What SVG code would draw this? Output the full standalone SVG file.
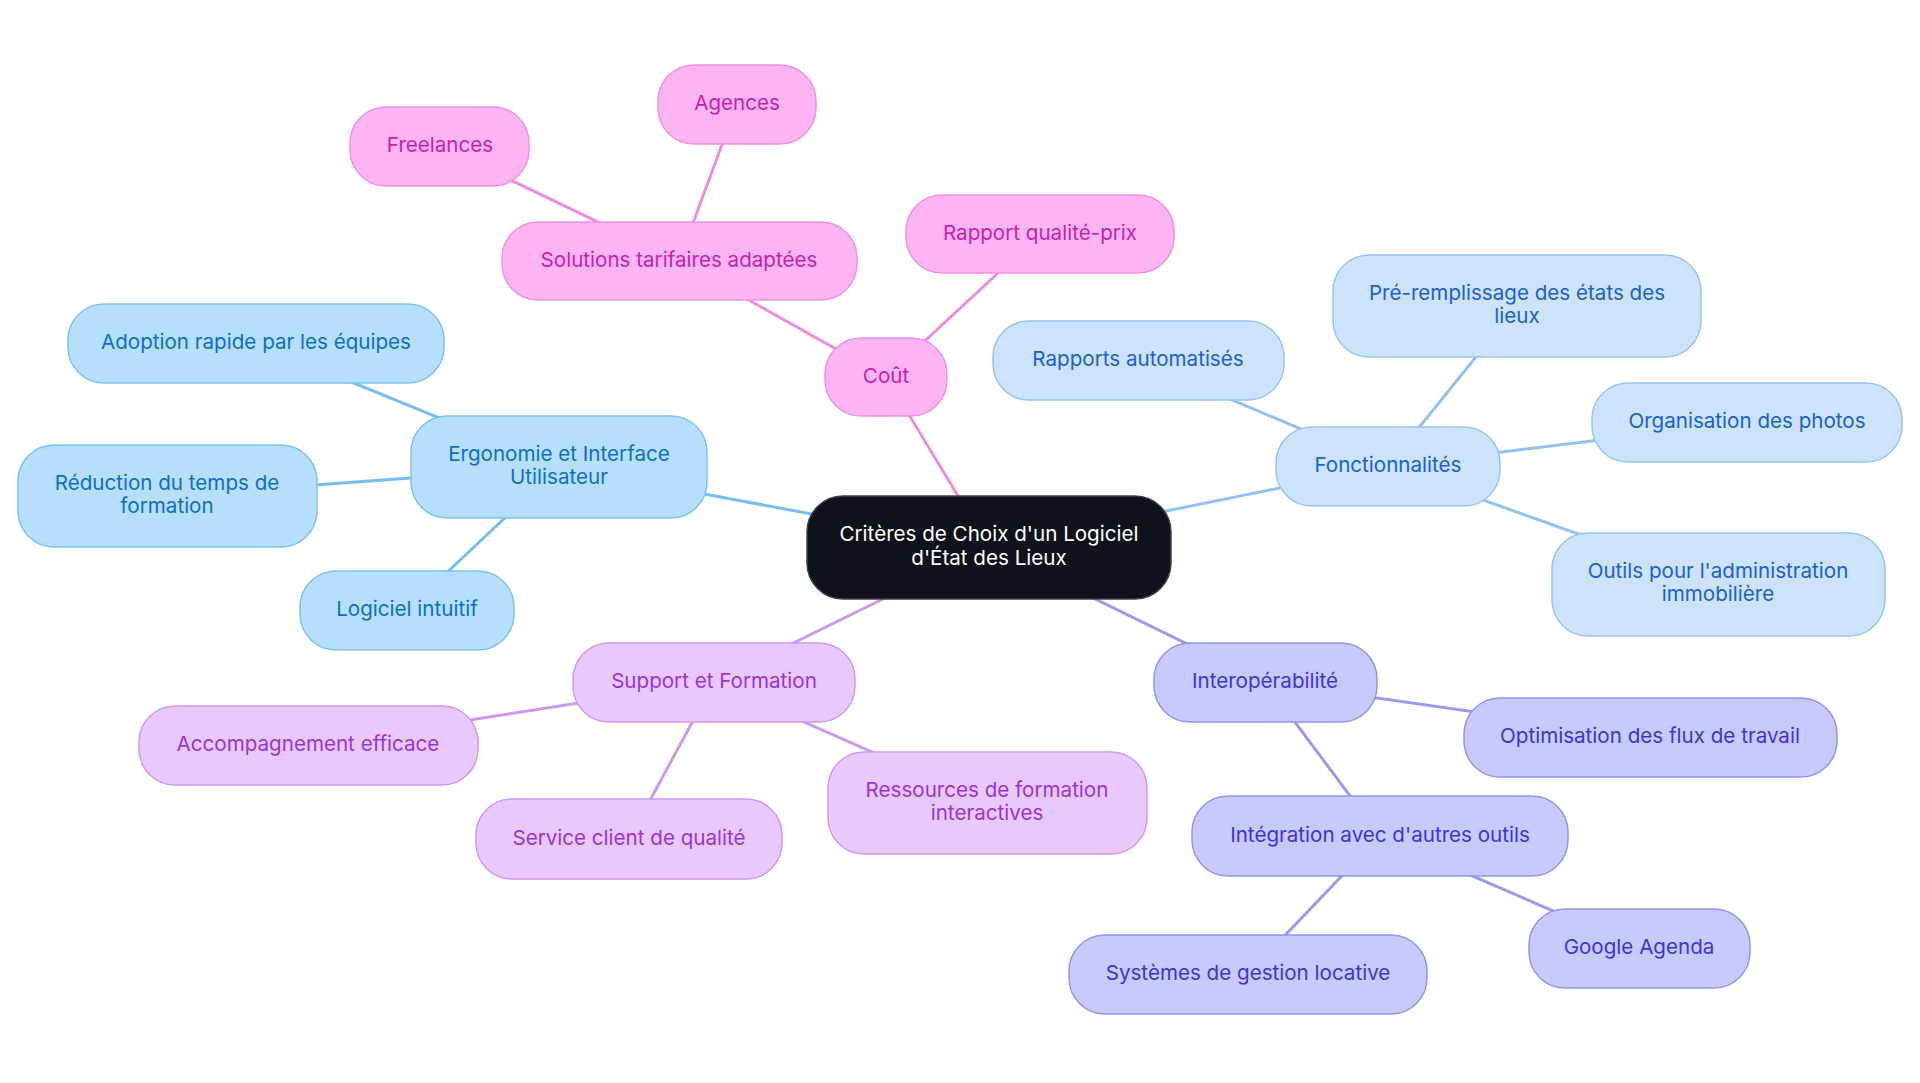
<svg xmlns="http://www.w3.org/2000/svg" width="1920" height="1083" viewBox="0 0 1920 1083">
<style>
text{font-family:Inter,"Noto Sans","Liberation Sans",sans-serif;font-size:20.6px;text-anchor:middle}
.pk rect{fill:#fdb4f3;stroke:#f28fe4;stroke-width:1.5}
.pk text{fill:#c81fae}
.lb rect{fill:#b5dffd;stroke:#7cc2f0;stroke-width:1.5}
.lb text{fill:#0d6fc6}
.pb rect{fill:#cce3fb;stroke:#98c4f3;stroke-width:1.5}
.pb text{fill:#1a60d0}
.pu rect{fill:#e8c9fe;stroke:#cf98f3;stroke-width:1.5}
.pu text{fill:#9a32dd}
.in rect{fill:#c8c9fd;stroke:#9393f2;stroke-width:1.5}
.in text{fill:#3b35d6}
.ct rect{fill:#0d121b;stroke:#3c424c;stroke-width:1.5}
.ct text{fill:#ffffff}
#edges line{stroke-width:3;fill:none}
.e-pk{stroke:#f08be0}
.e-lb{stroke:#78bff0}
.e-pb{stroke:#93c1f1}
.e-pu{stroke:#cc99f0}
.e-in{stroke:#9a9af0}
</style>
<rect width="1920" height="1083" fill="#ffffff"/>
<g id="edges">
<line class="e-pk" x1="989" y1="547" x2="886" y2="377"/>
<line class="e-pk" x1="886" y1="377" x2="679" y2="261"/>
<line class="e-pk" x1="886" y1="377" x2="1040" y2="234"/>
<line class="e-pk" x1="679" y1="261" x2="737" y2="104"/>
<line class="e-pk" x1="679" y1="261" x2="440" y2="146"/>
<line class="e-lb" x1="989" y1="547" x2="559" y2="467"/>
<line class="e-lb" x1="559" y1="467" x2="256" y2="343"/>
<line class="e-lb" x1="559" y1="467" x2="167" y2="496"/>
<line class="e-lb" x1="559" y1="467" x2="407" y2="610"/>
<line class="e-pb" x1="989" y1="547" x2="1388" y2="466"/>
<line class="e-pb" x1="1388" y1="466" x2="1138" y2="360"/>
<line class="e-pb" x1="1388" y1="466" x2="1517" y2="306"/>
<line class="e-pb" x1="1388" y1="466" x2="1747" y2="422"/>
<line class="e-pb" x1="1388" y1="466" x2="1718" y2="584"/>
<line class="e-pu" x1="989" y1="547" x2="714" y2="682"/>
<line class="e-pu" x1="714" y1="682" x2="308" y2="745"/>
<line class="e-pu" x1="714" y1="682" x2="629" y2="839"/>
<line class="e-pu" x1="714" y1="682" x2="987" y2="803"/>
<line class="e-in" x1="989" y1="547" x2="1265" y2="682"/>
<line class="e-in" x1="1265" y1="682" x2="1650" y2="737"/>
<line class="e-in" x1="1265" y1="682" x2="1380" y2="836"/>
<line class="e-in" x1="1380" y1="836" x2="1639" y2="948"/>
<line class="e-in" x1="1380" y1="836" x2="1248" y2="974"/>
</g>
<g id="center" class="ct"><rect x="807" y="496" width="364" height="103" rx="36"/><text x="989" y="541">Critères de Choix d'un Logiciel</text><text x="989" y="565">d'État des Lieux</text></g>
<g id="cout" class="pk"><rect x="825" y="338" width="122" height="78" rx="36"/><text x="886" y="383">Coût</text></g>
<g id="solutions" class="pk"><rect x="502" y="222" width="355" height="78" rx="36"/><text x="679" y="267">Solutions tarifaires adaptées</text></g>
<g id="rapport-qp" class="pk"><rect x="906" y="195" width="268" height="78" rx="36"/><text x="1040" y="240">Rapport qualité-prix</text></g>
<g id="agences" class="pk"><rect x="658" y="65" width="158" height="79" rx="36"/><text x="737" y="110">Agences</text></g>
<g id="freelances" class="pk"><rect x="350" y="107" width="179" height="79" rx="36"/><text x="440" y="152">Freelances</text></g>
<g id="ergonomie" class="lb"><rect x="411" y="416" width="296" height="102" rx="36"/><text x="559" y="461">Ergonomie et Interface</text><text x="559" y="484">Utilisateur</text></g>
<g id="adoption" class="lb"><rect x="68" y="304" width="376" height="79" rx="36"/><text x="256" y="349">Adoption rapide par les équipes</text></g>
<g id="reduction" class="lb"><rect x="18" y="445" width="299" height="102" rx="36"/><text x="167" y="490">Réduction du temps de</text><text x="167" y="513">formation</text></g>
<g id="logiciel" class="lb"><rect x="300" y="571" width="214" height="79" rx="36"/><text x="407" y="616">Logiciel intuitif</text></g>
<g id="fonctionnalites" class="pb"><rect x="1276" y="427" width="224" height="79" rx="36"/><text x="1388" y="472">Fonctionnalités</text></g>
<g id="rapports-auto" class="pb"><rect x="993" y="321" width="291" height="79" rx="36"/><text x="1138" y="366">Rapports automatisés</text></g>
<g id="preremplissage" class="pb"><rect x="1333" y="255" width="368" height="102" rx="36"/><text x="1517" y="300">Pré-remplissage des états des</text><text x="1517" y="323">lieux</text></g>
<g id="photos" class="pb"><rect x="1592" y="383" width="310" height="79" rx="36"/><text x="1747" y="428">Organisation des photos</text></g>
<g id="outils" class="pb"><rect x="1552" y="533" width="333" height="103" rx="36"/><text x="1718" y="578">Outils pour l'administration</text><text x="1718" y="601">immobilière</text></g>
<g id="support" class="pu"><rect x="573" y="643" width="282" height="79" rx="36"/><text x="714" y="688">Support et Formation</text></g>
<g id="accompagnement" class="pu"><rect x="139" y="706" width="339" height="79" rx="36"/><text x="308" y="751">Accompagnement efficace</text></g>
<g id="service" class="pu"><rect x="476" y="799" width="306" height="80" rx="36"/><text x="629" y="845">Service client de qualité</text></g>
<g id="ressources" class="pu"><rect x="828" y="752" width="319" height="102" rx="36"/><text x="987" y="797">Ressources de formation</text><text x="987" y="820">interactives</text></g>
<g id="interop" class="in"><rect x="1154" y="643" width="223" height="79" rx="36"/><text x="1265" y="688">Interopérabilité</text></g>
<g id="optimisation" class="in"><rect x="1464" y="698" width="373" height="79" rx="36"/><text x="1650" y="743">Optimisation des flux de travail</text></g>
<g id="integration" class="in"><rect x="1192" y="796" width="376" height="80" rx="36"/><text x="1380" y="842">Intégration avec d'autres outils</text></g>
<g id="google" class="in"><rect x="1529" y="909" width="221" height="79" rx="36"/><text x="1639" y="954">Google Agenda</text></g>
<g id="systemes" class="in"><rect x="1069" y="935" width="358" height="79" rx="36"/><text x="1248" y="980">Systèmes de gestion locative</text></g>
</svg>
